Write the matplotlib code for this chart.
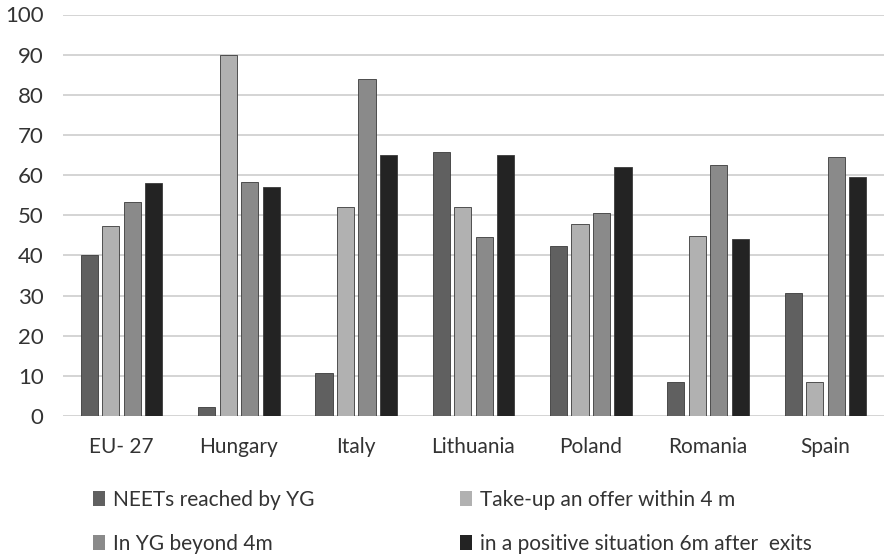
import matplotlib
matplotlib.use("Agg")
import matplotlib.pyplot as plt
import numpy as np
from matplotlib.patches import Patch

plt.rcParams['font.family'] = ['Lato', 'DejaVu Sans']

categories = ["EU- 27", "Hungary", "Italy", "Lithuania", "Poland", "Romania", "Spain"]
series_names = ["NEETs reached by YG", "Take-up an offer within 4 m",
                "In YG beyond 4m", "in a positive situation 6m after  exits"]
neets = [40, 2.2, 10.6, 65.7, 42.4, 8.5, 30.7]
takeup = [47.4, 90, 52, 52, 47.7, 44.9, 8.5]
beyond = [53.3, 58.2, 83.9, 44.7, 50.6, 62.6, 64.5]
positive = [58, 57, 65, 65, 62, 44, 59.5]
colors = ["#606060", "#b1b1b1", "#8a8a8a", "#232323"]
yticks = list(range(0, 101, 10))

fig = plt.figure(figsize=(8.87, 5.55), dpi=100)
ax = fig.add_axes([63/887, 1-416/555, 821/887, (416-14.5)/555])

x = np.arange(len(categories))
pitch = 0.183
width = 0.146
all_series = [neets, takeup, beyond, positive]
for i, (vals, c) in enumerate(zip(all_series, colors)):
    ax.bar(x + (i - 1.5) * pitch, vals, width, color=c, edgecolor="#3a3a3a",
           linewidth=0.6, zorder=3, label=series_names[i])

ax.set_xlim(-0.5, len(categories) - 0.5)
ax.set_ylim(0, 100)
ax.set_yticks(yticks)
ax.set_yticklabels([str(t) for t in yticks], fontsize=16, color="#333333")
ax.set_xticks(x)
ax.set_xticklabels(categories, fontsize=15, color="#333333")
ax.tick_params(axis='both', length=0)
ax.tick_params(axis='x', pad=15)
ax.tick_params(axis='y', pad=14)
ax.grid(axis='y', color="#d4d4d4", linewidth=1.4, zorder=0)
for s in ax.spines.values():
    s.set_visible(False)

handles = [Patch(facecolor=colors[0]), Patch(facecolor=colors[2]),
           Patch(facecolor=colors[1]), Patch(facecolor=colors[3])]
labels = [series_names[0], series_names[2], series_names[1], series_names[3]]
fig.legend(handles, labels, loc='upper left', bbox_to_anchor=(74/887, 1-471/555),
           ncol=2, frameon=False, fontsize=15, handlelength=0.6, handleheight=0.7,
           handletextpad=0.35, columnspacing=7.0, labelspacing=1.15, labelcolor="#333333")

fig.savefig("out.png", dpi=100, facecolor="white")
